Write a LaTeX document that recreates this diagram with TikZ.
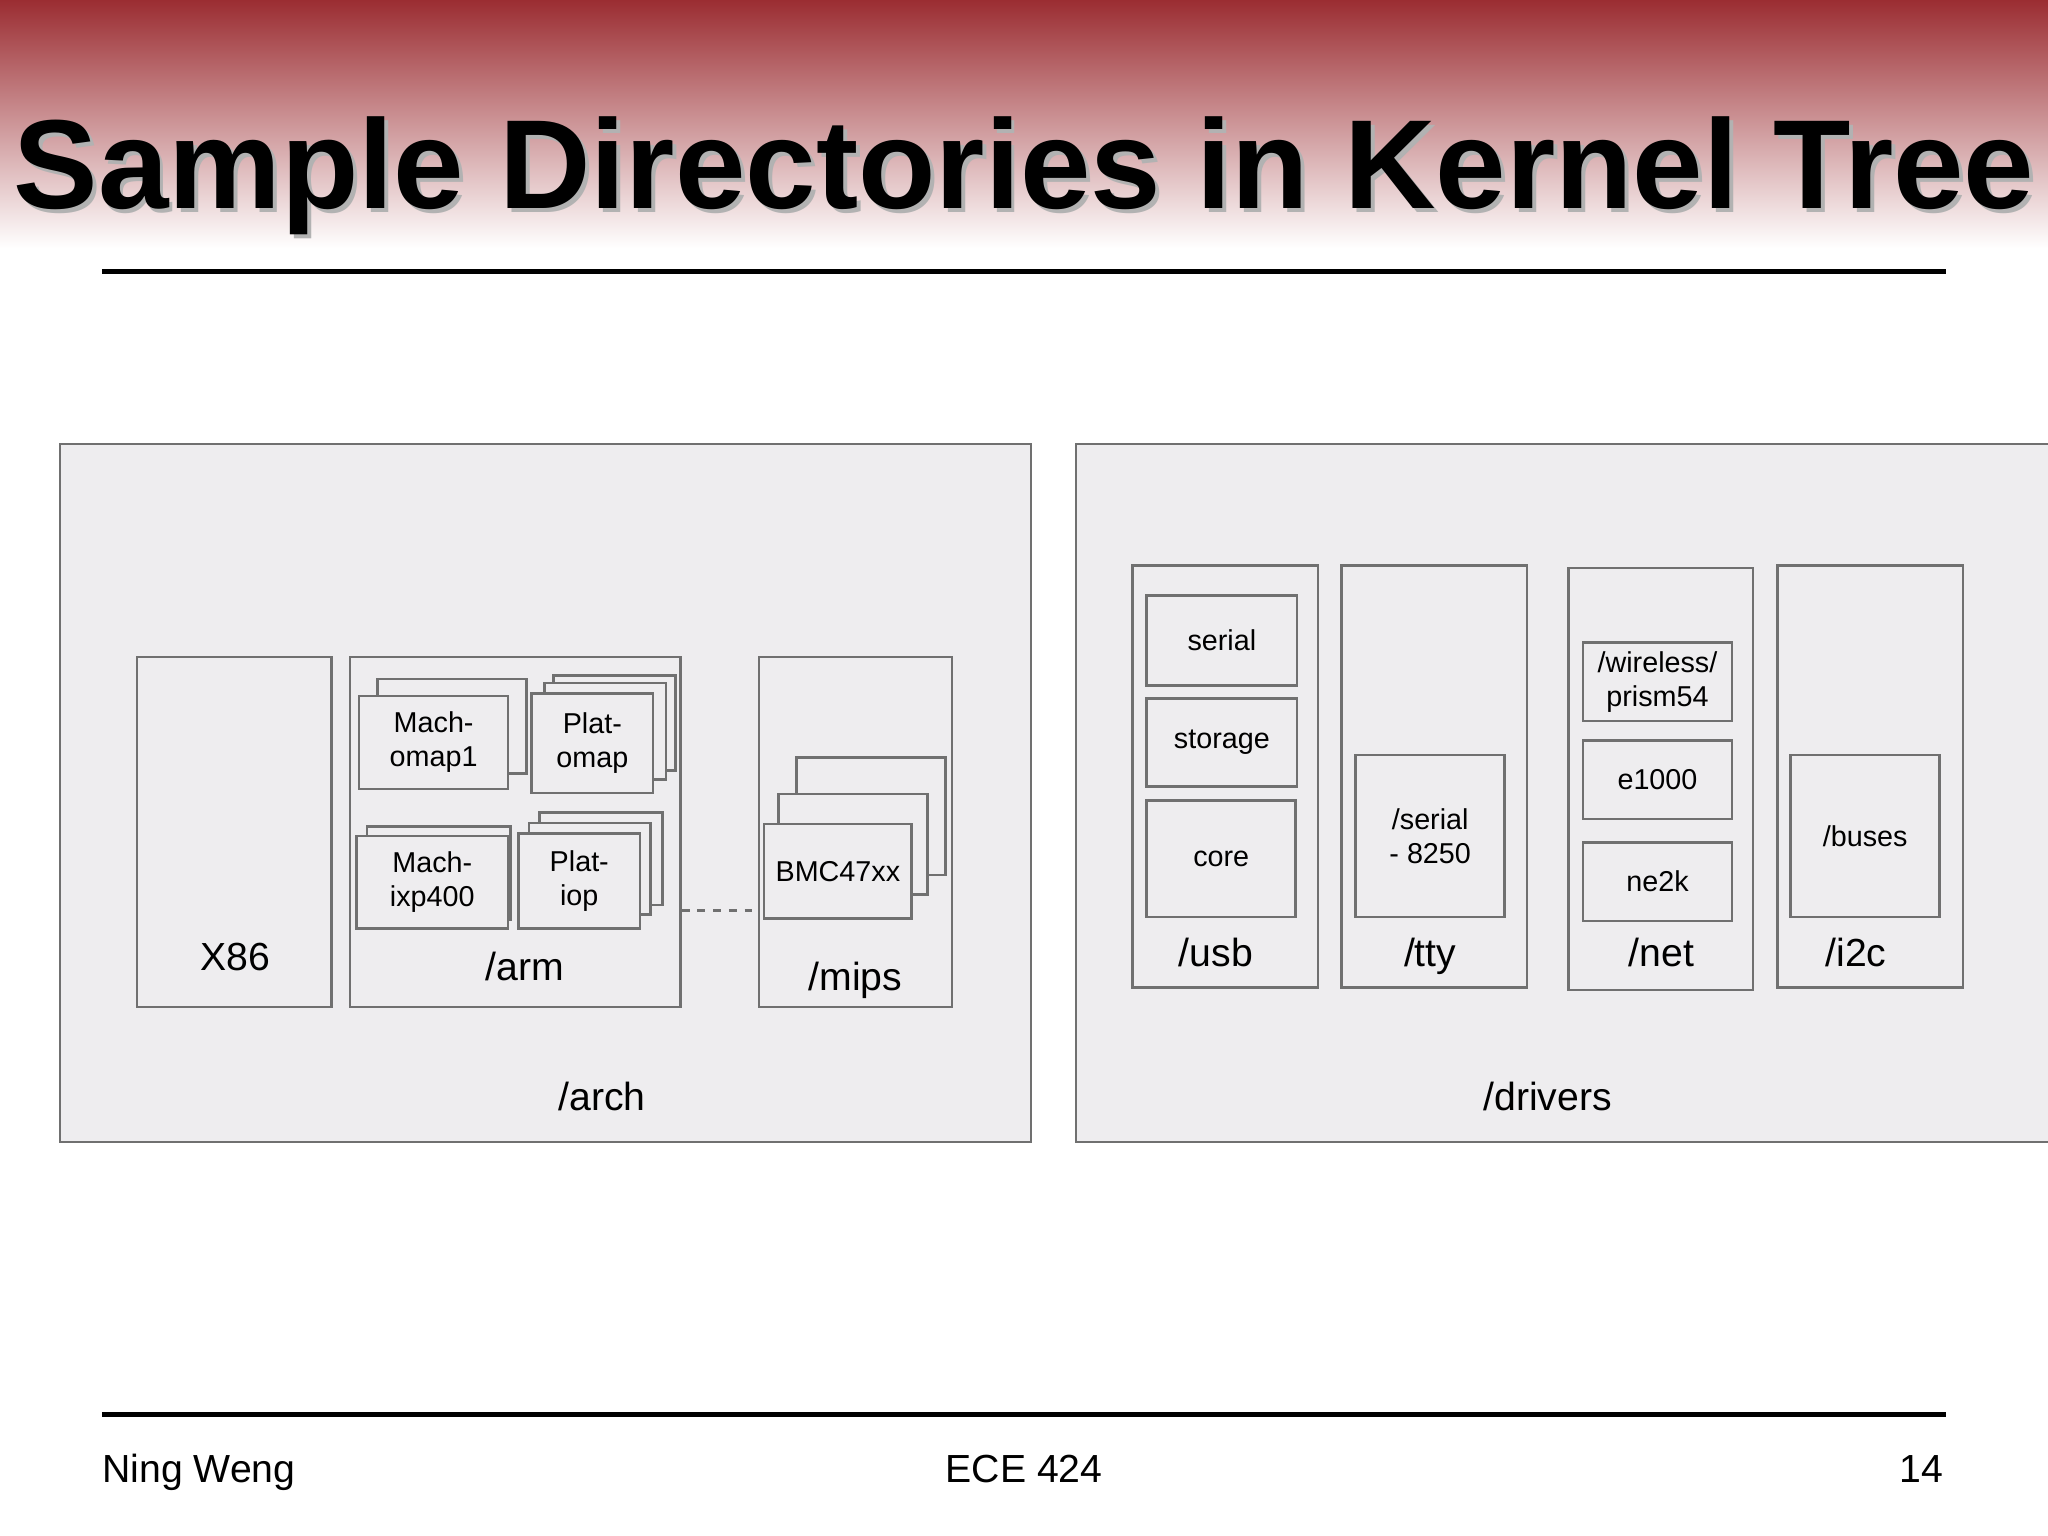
\documentclass[tikz,border=0pt]{standalone}
\usepackage{fontspec}
\setmainfont{Liberation Sans}
\usetikzlibrary{fit}
\definecolor{panel}{HTML}{EEEDEF}
\definecolor{edge}{HTML}{707070}
\tikzset{
 bx/.style={draw=edge,line width=1pt,fill=panel,inner sep=0pt,align=center,font=\fontsize{11}{13}\selectfont},
 pn/.style={draw=edge,line width=0.8pt,fill=panel,inner sep=0pt},
 lbl/.style={font=\fontsize{15}{17}\selectfont,anchor=base},
 ft/.style={font=\fontsize{15}{17}\selectfont,inner sep=0pt},
}
\newcommand\bx[6][]{\node[bx,fit={(#3,#4)(#5,#6)},#1] (#2) {};}
\begin{document}
\begin{tikzpicture}[x=0.5pt,y=-0.5pt]
\useasboundingbox (0,0) rectangle (1568,1176);
\fill[white] (0,0) rectangle (1568,1176);
\shade[top color={rgb,255:red,155;green,45;blue,50},bottom color=white] (0,0) rectangle (1568,190);
\node[anchor=base,font=\fontsize{48.5}{50}\selectfont\bfseries,text=gray!60] at (787,163) {Sample Directories in Kernel Tree};
\node[anchor=base,font=\fontsize{48.5}{50}\selectfont\bfseries] (title) at (784,160) {Sample Directories in Kernel Tree};
\draw[line width=2pt] (78,208) coordinate (t1) -- (1490,208) coordinate (t2);
\draw[line width=2pt] (78,1083) coordinate (b1) -- (1490,1083) coordinate (b2);
\node[ft,anchor=base west] (f1) at (78,1135) {Ning Weng};
\node[ft,anchor=base] (f2) at (784,1135) {ECE 424};
\node[ft,anchor=base east] (f3) at (1488,1135) {14};
% panels
\node[pn,fit={(46,340)(789,874)}] (arch) {};
\node[pn,fit={(824,340)(1572,874)}] (drivers) {};
\node[lbl] at (461,850) {/arch};
\node[lbl] at (1185,850) {/drivers};
% arch
\bx{x86}{105}{503}{254}{771}
\node[lbl] at (180,743) {X86};
\bx{arm}{268}{503}{521}{771}
\node[lbl] at (402,751) {/arm};
\bx{mo1b}{289}{520}{403}{592}
\bx{mo1}{275}{533}{389}{604}
\node[bx,draw=none,fill=none] at (mo1) {Mach-\\omap1};
\bx{pob2}{424}{517}{517}{590}
\bx{pob1}{417}{523}{510}{597}
\bx{po}{407}{531}{500}{607}
\node[bx,draw=none,fill=none] at (po) {Plat-\\omap};
\bx{mixb}{281}{633}{391}{704}
\bx{mix}{273}{640}{389}{711}
\node[bx,draw=none,fill=none] at (mix) {Mach-\\ixp400};
\bx{pib2}{413}{622}{507}{693}
\bx{pib1}{405}{630}{498}{700}
\bx{pi}{397}{638}{490}{711}
\node[bx,draw=none,fill=none] at (pi) {Plat-\\iop};
\bx{mips}{581}{503}{729}{771}
\node[lbl] at (655,758) {/mips};
\bx{bmb2}{610}{580}{724}{670}
\bx{bmb1}{596}{608}{710}{685}
\bx{bm}{585}{631}{698}{703}
\node[bx,draw=none,fill=none] at (bm) {BMC47xx};
\draw[edge,dashed,line width=1pt] (arm.east |- 0,697) -- (mips.west |- 0,697);
% drivers
\bx{usb}{867}{433}{1009}{756}
\bx{serial}{878}{456}{993}{525}\node[bx,draw=none,fill=none] at (serial) {serial};
\bx{storage}{878}{535}{993}{602}\node[bx,draw=none,fill=none] at (storage) {storage};
\bx{core}{878}{613}{992}{702}\node[bx,draw=none,fill=none] at (core) {core};
\node[lbl] at (931,740) {/usb};
\bx{tty}{1027}{433}{1169}{756}
\bx{s8250}{1038}{578}{1152}{702}\node[bx,draw=none,fill=none] at (s8250) {/serial\\- 8250};
\node[lbl] at (1095,740) {/tty};
\bx{net}{1201}{435}{1342}{758}
\bx{wl}{1212}{492}{1326}{552}\node[bx,draw=none,fill=none] at (wl) {/wireless/\\prism54};
\bx{e1000}{1212}{567}{1326}{627}\node[bx,draw=none,fill=none] at (e1000) {e1000};
\bx{ne2k}{1212}{645}{1326}{705}\node[bx,draw=none,fill=none] at (ne2k) {ne2k};
\node[lbl] at (1272,740) {/net};
\bx{i2c}{1361}{433}{1503}{756}
\bx{buses}{1371}{578}{1485}{702}\node[bx,draw=none,fill=none] at (buses) {/buses};
\node[lbl] at (1421,740) {/i2c};
\end{tikzpicture}
\end{document}
